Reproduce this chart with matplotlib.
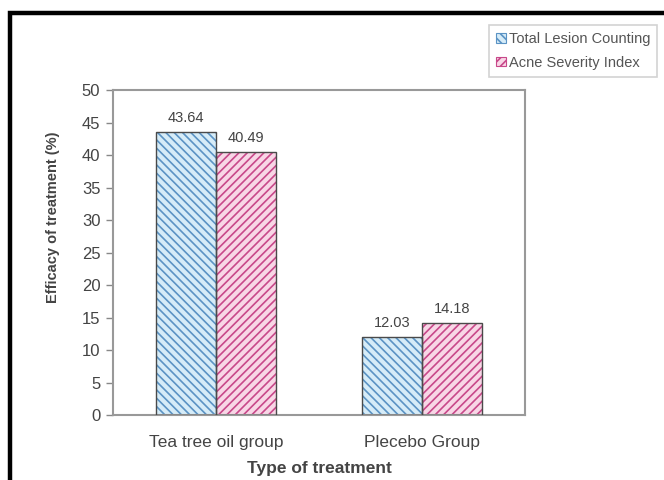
import matplotlib
matplotlib.use("Agg")
import matplotlib.pyplot as plt
from matplotlib.patches import Rectangle, Patch
import numpy as np

categories = ["Tea tree oil group", "Plecebo Group"]
series_names = ["Total Lesion Counting", "Acne Severity Index"]
total_lesion = [43.64, 12.03]
acne_severity = [40.49, 14.18]
yticks = [0, 5, 10, 15, 20, 25, 30, 35, 40, 45, 50]

plt.rcParams['font.family'] = ['Liberation Sans', 'DejaVu Sans']
plt.rcParams['hatch.linewidth'] = 1.2

fig = plt.figure(figsize=(6.64, 4.8), dpi=100)
ax = fig.add_axes([0.170, 0.135, 0.621, 0.677])

# outer frame
fig.patches.append(Rectangle((10/664, -0.1), 1.2, 1 - 13/480 + 0.1, transform=fig.transFigure,
                             fill=False, edgecolor='black', linewidth=3.2, zorder=0))

x = np.arange(len(categories))
w = 0.29
series = [total_lesion, acne_severity]
faces = ['#d6ecf8', '#f8d6e6']
hatchcols = ['#5b93c4', '#c8488a']
hatches = ['\\\\\\\\', '////']
offsets = [-w/2, w/2]
for vals, fc, hc, h, off in zip(series, faces, hatchcols, hatches, offsets):
    ax.bar(x + off, vals, w, color=fc, edgecolor=hc, hatch=h, linewidth=0, zorder=2)
    bars = ax.bar(x + off, vals, w, fill=False, edgecolor='#4a4a4a', linewidth=1.0, zorder=3)
    for b, v in zip(bars, vals):
        ax.annotate(f"{v:.2f}", (b.get_x() + b.get_width()/2, v), xytext=(0, 5),
                    textcoords='offset points', ha='center', va='bottom', fontsize=10.5,
                    color='#444444')

handles = [Patch(facecolor=faces[i], edgecolor=hatchcols[i], hatch=hatches[i], linewidth=0.8)
           for i in range(2)]
leg = fig.legend(handles, series_names, loc='upper right', bbox_to_anchor=(0.99, 0.948),
                 fontsize=10.5, frameon=True, fancybox=False, edgecolor='#c8c8c8',
                 handlelength=0.65, handleheight=0.65, handletextpad=0.2, borderpad=0.5,
                 labelspacing=0.65, borderaxespad=0)
leg.get_frame().set_linewidth(1.2)
for t in leg.get_texts():
    t.set_color('#555555')

ax.set_xlim(-0.5, 1.5)
ax.set_ylim(0, 50)
ax.set_yticks(yticks)
ax.set_xticks(x)
ax.set_xticklabels(categories, fontsize=12.5, color='#444444')
ax.tick_params(axis='y', labelsize=12, labelcolor='#444444', color='#888888', length=5,
               width=1.0, pad=4)
ax.tick_params(axis='x', length=0, pad=14)
for s in ax.spines.values():
    s.set_color('#999999')
    s.set_linewidth(1.5)
ax.set_xlabel("Type of treatment", fontsize=12.5, fontweight='bold', color='#444444', labelpad=8)
ax.set_ylabel("Efficacy of treatment (%)", fontsize=10.5, fontweight='bold', color='#444444')
ax.yaxis.set_label_coords(-0.128, 0.61)

fig.savefig("out.png", dpi=100)
